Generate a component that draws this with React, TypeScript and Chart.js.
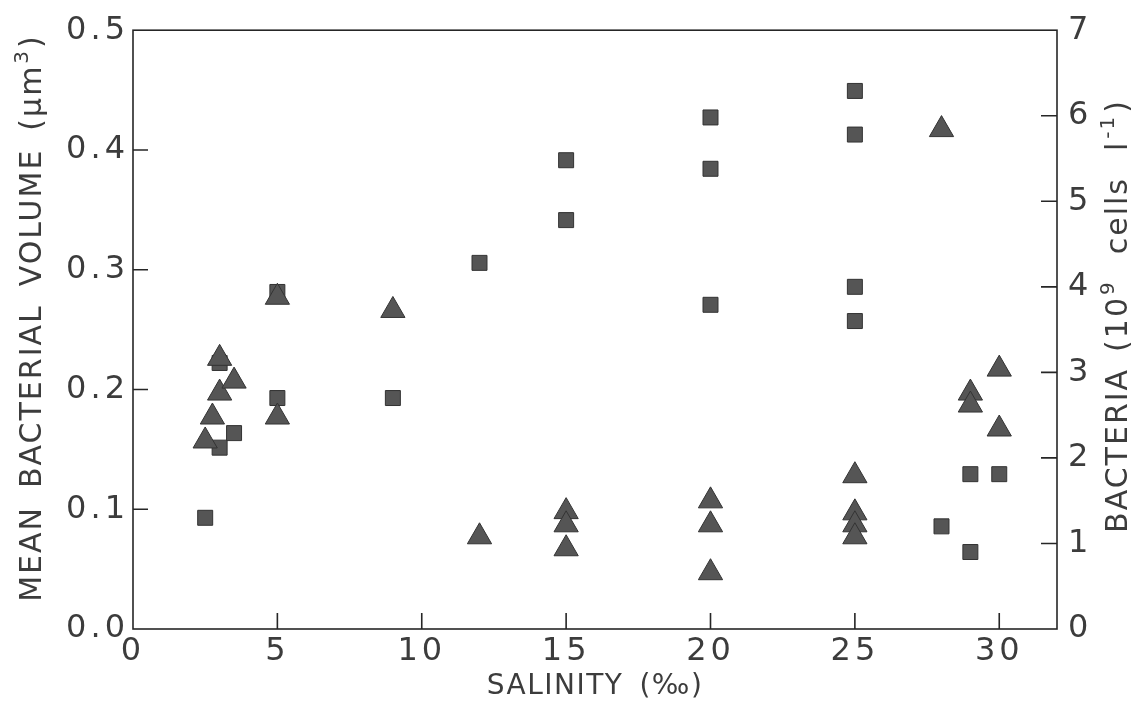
import React, { useEffect, useRef } from 'react';
import { Chart, registerables } from 'chart.js';

Chart.register(...registerables);

// Triangles: mean bacterial volume (left axis, µm³)
const volumeSalinity = [2.5, 2.75, 3.0, 3.0, 3.5, 5, 5, 9, 12, 15, 15, 15, 20, 20, 20, 25, 25, 25, 25, 28, 29, 29, 30, 30];
const volumeValues = [0.157, 0.177, 0.197, 0.226, 0.207, 0.277, 0.177, 0.266, 0.077, 0.098, 0.087, 0.067, 0.107, 0.087, 0.047, 0.128, 0.097, 0.087, 0.077, 0.417, 0.197, 0.187, 0.217, 0.167];

// Squares: bacteria (right axis, 10^9 cells l^-1)
const bacteriaSalinity = [2.5, 3.0, 3.0, 3.5, 5, 5, 9, 12, 15, 15, 20, 20, 20, 25, 25, 25, 25, 28, 29, 29, 30];
const bacteriaValues = [1.3, 2.12, 3.11, 2.29, 3.94, 2.7, 2.7, 4.28, 5.48, 4.78, 5.98, 5.38, 3.79, 6.29, 5.78, 4.0, 3.6, 1.2, 1.81, 0.9, 1.81];

const xTickValues = [0, 5, 10, 15, 20, 25, 30];
const volumeTickValues = [0, 0.1, 0.2, 0.3, 0.4, 0.5];
const bacteriaTickValues = [0, 1, 2, 3, 4, 5, 6, 7];

// Axis titles as text segments: [text, isSuperscript, gapBefore]
const xTitleParts: [string, boolean, number][] = [['SALINITY', false, 0], ['(‰)', false, 16]];
const leftTitleParts: [string, boolean, number][] = [
  ['MEAN', false, 0], ['BACTERIAL', false, 18], ['VOLUME', false, 18], ['(μm', false, 18], ['3', true, 1], [')', false, 1],
];
const rightTitleParts: [string, boolean, number][] = [
  ['BACTERIA', false, 0], ['(10', false, 16], ['9', true, 1], ['cells', false, 26], ['l', false, 26], ['-1', true, 2], [')', false, 2],
];

const FONT = "'DejaVu Sans', 'Liberation Sans', sans-serif";
const TEXT = '#3c3c3c';
const LINE = '#262626';
const FILL = '#555555';
const EDGE = '#333333';

function drawParts(
  ctx: CanvasRenderingContext2D,
  parts: [string, boolean, number][],
  cx: number,
  cy: number,
  rotate: boolean,
  size: number,
  supSize: number,
  spacing: number,
) {
  const mainFont = `${size}px ${FONT}`;
  const supFont = `${supSize}px ${FONT}`;
  ctx.save();
  ctx.letterSpacing = `${spacing}px`;
  const widths = parts.map(([t, sup]) => {
    ctx.font = sup ? supFont : mainFont;
    return ctx.measureText(t).width;
  });
  const total = parts.reduce((acc, p, i) => acc + p[2] + widths[i], 0);
  ctx.translate(cx, cy);
  if (rotate) ctx.rotate(-Math.PI / 2);
  ctx.fillStyle = TEXT;
  ctx.textAlign = 'left';
  ctx.textBaseline = 'alphabetic';
  let u = -total / 2;
  const base = size * 0.36;
  parts.forEach(([t, sup, gap], i) => {
    u += gap;
    ctx.font = sup ? supFont : mainFont;
    ctx.fillText(t, u, sup ? base - size * 0.42 : base);
    u += widths[i];
  });
  ctx.restore();
}

const framePlugin = {
  id: 'framePlugin',
  beforeDraw(chart: any) {
    chart.ctx.letterSpacing = '4px';
  },
  afterDraw(chart: any) {
    const { ctx, chartArea: a, scales } = chart;
    ctx.save();
    ctx.letterSpacing = '0px';
    ctx.strokeStyle = LINE;
    ctx.lineWidth = 1.6;
    ctx.strokeRect(a.left, a.top, a.right - a.left, a.bottom - a.top);
    ctx.beginPath();
    scales.x.ticks.forEach((t: any) => {
      if (t.value <= 0) return;
      const px = scales.x.getPixelForValue(t.value);
      ctx.moveTo(px, a.bottom);
      ctx.lineTo(px, a.bottom - 16);
    });
    scales.y.ticks.forEach((t: any) => {
      if (t.value <= 0 || t.value >= 0.5) return;
      const py = scales.y.getPixelForValue(t.value);
      ctx.moveTo(a.left, py);
      ctx.lineTo(a.left + 15, py);
    });
    scales.y1.ticks.forEach((t: any) => {
      if (t.value <= 0 || t.value >= 7) return;
      const py = scales.y1.getPixelForValue(t.value);
      ctx.moveTo(a.right, py);
      ctx.lineTo(a.right - 16, py);
    });
    ctx.stroke();
    ctx.restore();

    drawParts(ctx, xTitleParts, (a.left + a.right) / 2, 684, false, 28, 18, 1.5);
    drawParts(ctx, leftTitleParts, 30, 318, true, 30, 20, 2);
    drawParts(ctx, rightTitleParts, 1116, 316, true, 30, 20, 2);
  },
};

export default function App() {
  const canvasRef = useRef<HTMLCanvasElement | null>(null);

  useEffect(() => {
    const canvas = canvasRef.current;
    if (!canvas) return;
    const chart = new Chart(canvas, {
      type: 'scatter',
      data: {
        datasets: [
          {
            label: 'Volume',
            data: volumeSalinity.map((s, i) => ({ x: s, y: volumeValues[i] })),
            yAxisID: 'y',
            pointStyle: 'triangle',
            pointRadius: 14,
            pointHoverRadius: 14,
            backgroundColor: FILL,
            borderColor: EDGE,
            borderWidth: 1,
          },
          {
            label: 'Bacteria',
            data: bacteriaSalinity.map((s, i) => ({ x: s, y: bacteriaValues[i] })),
            yAxisID: 'y1',
            pointStyle: 'rect',
            pointRadius: 10.6,
            pointHoverRadius: 10.6,
            backgroundColor: FILL,
            borderColor: EDGE,
            borderWidth: 1,
          },
        ],
      },
      options: {
        animation: false,
        responsive: true,
        maintainAspectRatio: false,
        layout: { padding: { top: 27, left: 0, right: 0, bottom: 0 } },
        plugins: {
          legend: { display: false },
          tooltip: { enabled: false },
        },
        scales: {
          x: {
            type: 'linear',
            min: 0,
            max: 32,
            afterBuildTicks: (scale: any) => {
              scale.ticks = xTickValues.map((v) => ({ value: v }));
            },
            afterFit: (scale: any) => {
              scale.height = 76;
            },
            grid: { display: false, drawTicks: false },
            border: { display: false },
            ticks: {
              padding: 3,
              color: TEXT,
              font: { family: FONT, size: 32 },
              maxRotation: 0,
              autoSkip: false,
            },
          },
          y: {
            type: 'linear',
            position: 'left',
            min: 0,
            max: 0.5,
            afterBuildTicks: (scale: any) => {
              scale.ticks = volumeTickValues.map((v) => ({ value: v }));
            },
            afterFit: (scale: any) => {
              scale.width = 133;
            },
            grid: { display: false, drawTicks: false },
            border: { display: false },
            ticks: {
              padding: 4,
              color: TEXT,
              font: { family: FONT, size: 32 },
              callback: (v: any) => Number(v).toFixed(1),
            },
          },
          y1: {
            type: 'linear',
            position: 'right',
            min: 0,
            max: 7,
            afterBuildTicks: (scale: any) => {
              scale.ticks = bacteriaTickValues.map((v) => ({ value: v }));
            },
            afterFit: (scale: any) => {
              scale.width = 84;
            },
            grid: { display: false, drawTicks: false },
            border: { display: false },
            ticks: {
              padding: 11,
              color: TEXT,
              font: { family: FONT, size: 32 },
              callback: (v: any) => String(v),
            },
          },
        },
      },
      plugins: [framePlugin],
    } as any);
    return () => chart.destroy();
  }, []);

  return (
    <div style={{ position: 'absolute', left: 0, top: 0, width: 1141, height: 705, background: '#ffffff' }}>
      <canvas ref={canvasRef} />
    </div>
  );
}
